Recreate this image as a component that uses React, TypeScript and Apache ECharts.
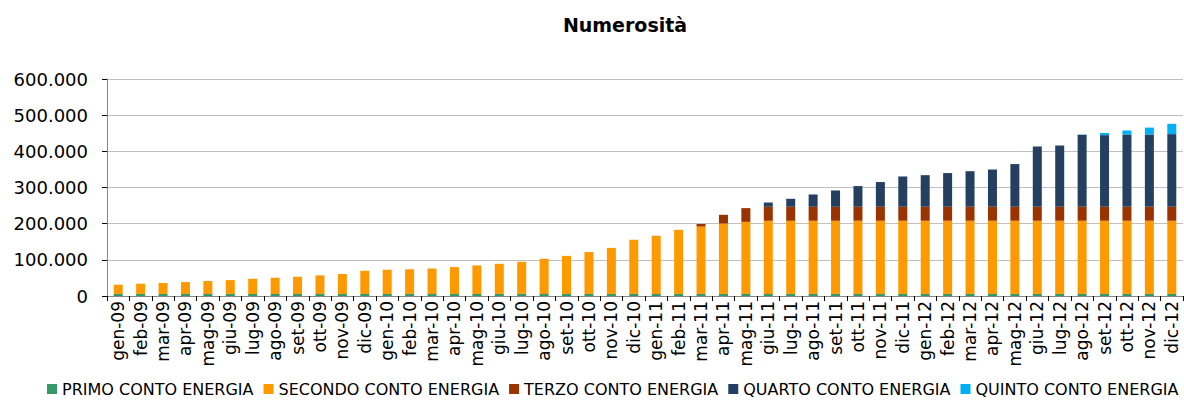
import React, { useEffect, useRef } from "react";
import * as echarts from "echarts";

const categories = [
  "gen-09", "feb-09", "mar-09", "apr-09", "mag-09", "giu-09", "lug-09", "ago-09", "set-09", "ott-09", "nov-09", "dic-09",
  "gen-10", "feb-10", "mar-10", "apr-10", "mag-10", "giu-10", "lug-10", "ago-10", "set-10", "ott-10", "nov-10", "dic-10",
  "gen-11", "feb-11", "mar-11", "apr-11", "mag-11", "giu-11", "lug-11", "ago-11", "set-11", "ott-11", "nov-11", "dic-11",
  "gen-12", "feb-12", "mar-12", "apr-12", "mag-12", "giu-12", "lug-12", "ago-12", "set-12", "ott-12", "nov-12", "dic-12",
];

const primo = [
  5700, 5700, 5700, 5700, 5700, 5700, 5700, 5700, 5700, 5700, 5700, 5700,
  5700, 5700, 5700, 5700, 5700, 5700, 5700, 5700, 5700, 5700, 5700, 5700,
  5700, 5700, 5700, 5700, 5700, 5700, 5700, 5700, 5700, 5700, 5700, 5700,
  5700, 5700, 5700, 5700, 5700, 5700, 5700, 5700, 5700, 5700, 5700, 5700,
];

const secondo = [
  25500, 28300, 30300, 32900, 35700, 38300, 42100, 44800, 47600, 51300, 55100, 64200,
  66900, 68300, 70300, 74300, 78800, 83300, 89000, 97300, 105300, 115800, 127300, 149800,
  160900, 177300, 186300, 194800, 199300, 202300, 202300, 202300, 202300, 202400, 202400, 202400,
  202400, 202400, 202400, 202400, 202400, 202400, 202400, 202400, 202400, 202400, 202400, 202400,
];

const terzo = [
  0, 0, 0, 0, 0, 0, 0, 0, 0, 0, 0, 0,
  0, 0, 0, 0, 0, 0, 0, 0, 0, 0, 0, 0,
  0, 0, 7000, 24000, 38000, 38700, 38700, 38700, 38700, 38700, 38700, 38700,
  38700, 38700, 38700, 38700, 38700, 38700, 38700, 38700, 38700, 38700, 38700, 38700,
];

const quarto = [
  0, 0, 0, 0, 0, 0, 0, 0, 0, 0, 0, 0,
  0, 0, 0, 0, 0, 0, 0, 0, 0, 0, 0, 0,
  0, 0, 0, 0, 0, 11800, 22100, 34000, 45100, 57200, 68300, 83700,
  87300, 93100, 98300, 103000, 117900, 166600, 169300, 198900, 198000, 199800, 199800, 200800,
];

const quinto = [
  0, 0, 0, 0, 0, 0, 0, 0, 0, 0, 0, 0,
  0, 0, 0, 0, 0, 0, 0, 0, 0, 0, 0, 0,
  0, 0, 0, 0, 0, 0, 0, 0, 0, 0, 0, 0,
  0, 0, 0, 0, 0, 0, 0, 800, 6000, 11000, 19000, 28500,
];

const seriesNames = [
  "PRIMO CONTO ENERGIA",
  "SECONDO CONTO ENERGIA",
  "TERZO CONTO ENERGIA",
  "QUARTO CONTO ENERGIA",
  "QUINTO CONTO ENERGIA",
];
const seriesColors = ["#339966", "#FF9900", "#993300", "#243F60", "#00B0F0"];
const seriesData = [primo, secondo, terzo, quarto, quinto];

const fmt = (v: number) => String(v).replace(/\B(?=(\d{3})+(?!\d))/g, ".");

export default function App() {
  const ref = useRef<HTMLDivElement>(null);
  useEffect(() => {
    document.body.style.margin = "0";
    const chart = echarts.init(ref.current!, null, { renderer: "svg" });
    chart.setOption({
      animation: false,
      backgroundColor: "#ffffff",
      textStyle: { fontFamily: "DejaVu Sans" },
      title: {
        text: "Numerosità",
        left: 620,
        top: 10,
        textAlign: "center",
        textStyle: { fontFamily: "DejaVu Sans", fontWeight: "bold", fontSize: 19, color: "#000" },
      },
      legend: {
        top: 378,
        left: 47,
        padding: [2, 0, 2, 0],
        itemWidth: 10,
        itemHeight: 10,
        itemGap: 10,
        icon: "rect",
        textStyle: { fontFamily: "DejaVu Sans", fontSize: 16, lineHeight: 18, color: "#000" },
        data: seriesNames,
      },
      grid: { left: 107, right: 1, top: 79, bottom: 105, containLabel: false },
      xAxis: {
        type: "category",
        data: categories,
        boundaryGap: true,
        axisLine: { lineStyle: { color: "#868686", width: 1 } },
        axisTick: { show: true, length: 5, lineStyle: { color: "#000" } },
        axisLabel: {
          rotate: 90,
          interval: 0,
          margin: 5,
          fontFamily: "DejaVu Sans",
          fontSize: 17,
          color: "#000",
        },
      },
      yAxis: {
        type: "value",
        min: 0,
        max: 600000,
        interval: 100000,
        axisLine: { show: true, lineStyle: { color: "#868686", width: 1 } },
        axisTick: { show: true, length: 5, lineStyle: { color: "#000" } },
        splitLine: { lineStyle: { color: "#C0C0C0", width: 1 } },
        axisLabel: {
          formatter: (v: number) => fmt(v),
          margin: 19,
          fontFamily: "DejaVu Sans",
          fontSize: 18,
          color: "#000",
        },
      },
      series: seriesNames.map((name, i) => ({
        name,
        type: "bar",
        stack: "total",
        barWidth: 9,
        data: seriesData[i],
        itemStyle: { color: seriesColors[i] },
      })),
    });
    return () => chart.dispose();
  }, []);
  return <div ref={ref} style={{ width: 1184, height: 401 }} />;
}
